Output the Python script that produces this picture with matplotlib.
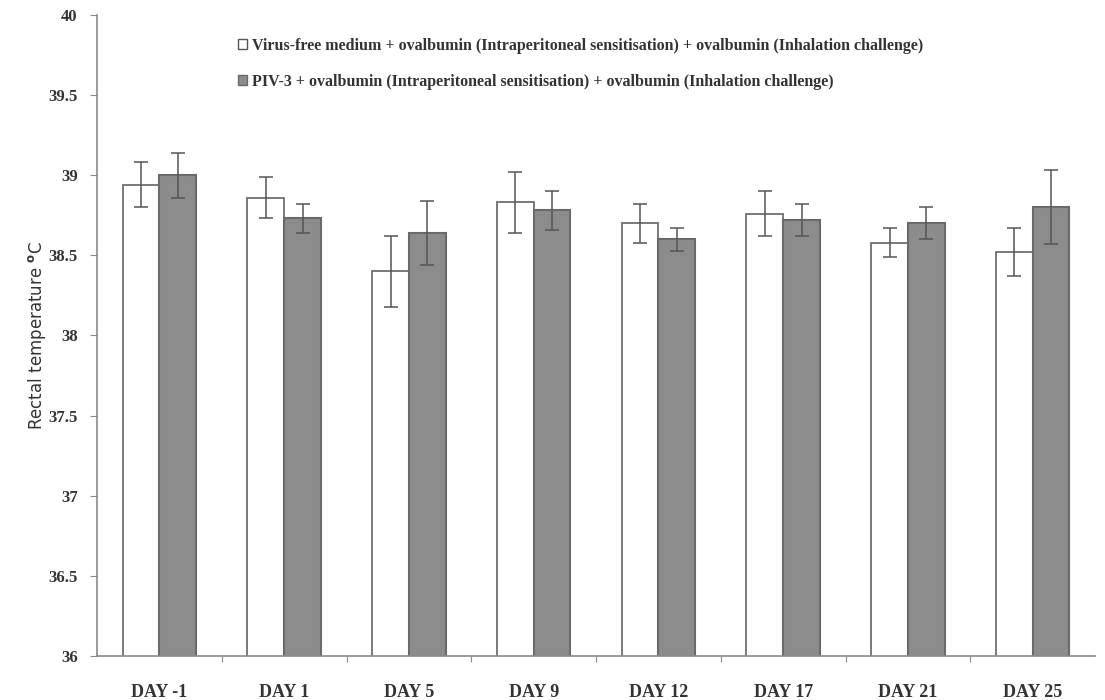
import numpy as np
import matplotlib.pyplot as plt
from matplotlib.patches import Patch
from matplotlib.ticker import FixedLocator

days = ['DAY -1', 'DAY 1', 'DAY 5', 'DAY 9', 'DAY 12', 'DAY 17', 'DAY 21', 'DAY 25']
ctrl_mean = [38.94, 38.86, 38.40, 38.83, 38.70, 38.76, 38.58, 38.52]
ctrl_err = [0.14, 0.13, 0.22, 0.19, 0.12, 0.14, 0.09, 0.15]
piv_mean = [39.00, 38.73, 38.64, 38.78, 38.60, 38.72, 38.70, 38.80]
piv_err = [0.14, 0.09, 0.20, 0.12, 0.07, 0.10, 0.10, 0.23]

ctrl_label = 'Virus-free medium + ovalbumin (Intraperitoneal sensitisation) + ovalbumin (Inhalation challenge)'
piv_label = 'PIV-3 + ovalbumin (Intraperitoneal sensitisation) + ovalbumin (Inhalation challenge)'

serif = ['Liberation Serif', 'DejaVu Serif']
axis_grey = '#8a8a8a'
txt = '#333333'

fig = plt.figure(figsize=(11.05, 7), dpi=100)
ax = fig.add_axes([0.0878, 0.0629, 0.9032, 0.9157])

x = np.arange(len(days))
w = 0.295
ax.bar(x - w/2, ctrl_mean, w, color='white', edgecolor='#707070', linewidth=1.3, zorder=2)
ax.bar(x + w/2, piv_mean, w, color='#8c8c8c', edgecolor='#6a6a6a', linewidth=1.5, zorder=2)
ax.errorbar(x - w/2, ctrl_mean, yerr=ctrl_err, fmt='none', ecolor='#555555',
            elinewidth=1.1, capsize=5, capthick=1.1, zorder=3)
ax.errorbar(x + w/2, piv_mean, yerr=piv_err, fmt='none', ecolor='#555555',
            elinewidth=1.1, capsize=5, capthick=1.1, zorder=3)

ax.set_xlim(-0.5, len(days) - 0.5)
ax.set_ylim(36, 40)
ax.set_yticks(np.arange(36, 40.01, 0.5))
ax.set_yticklabels(['36', '36.5', '37', '37.5', '38', '38.5', '39', '39.5', '40'],
                   fontfamily=serif, fontweight='bold', fontsize=12, color=txt)

# ticks between categories, labels at centres
ax.xaxis.set_major_locator(FixedLocator(x[:-1] + 0.5))
ax.xaxis.set_minor_locator(FixedLocator(x))
ax.set_xticklabels([], minor=False)
ax.set_xticklabels(days, minor=True, fontfamily=serif, fontweight='bold',
                   fontsize=13, color=txt)
ax.tick_params(axis='x', which='major', direction='out', length=4, color=axis_grey)
ax.tick_params(axis='x', which='minor', length=0, pad=20)
ax.tick_params(axis='y', direction='out', length=5, color=axis_grey, pad=9)

for s in ['top', 'right']:
    ax.spines[s].set_visible(False)
for s in ['left', 'bottom']:
    ax.spines[s].set_color(axis_grey)
    ax.spines[s].set_linewidth(1.2)

ax.set_ylabel('Rectal temperature $^{\\mathbf{o}}$C', fontfamily='DejaVu Sans',
              fontsize=12, color=txt, labelpad=0)

handles = [Patch(facecolor='white', edgecolor='#555555', linewidth=1.0),
           Patch(facecolor='#8c8c8c', edgecolor='#6a6a6a', linewidth=1.0)]
ax.legend(handles, [ctrl_label, piv_label], loc='upper left',
          bbox_to_anchor=(0.133, 0.977), frameon=False, borderpad=0,
          handlelength=0.6, handleheight=0.6, handletextpad=0.3,
          labelspacing=1.25, prop={'family': serif, 'weight': 'bold', 'size': 11.5},
          labelcolor=txt)

fig.savefig('out.png', dpi=100, facecolor='white')
